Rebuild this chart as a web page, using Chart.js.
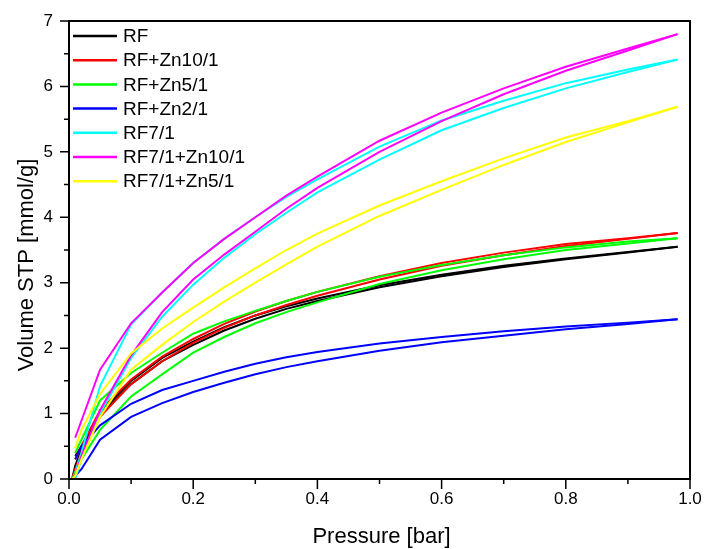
<!DOCTYPE html>
<html>
<head>
<meta charset="utf-8">
<script src="https://cdn.jsdelivr.net/npm/chart.js@4/dist/chart.umd.min.js"></script>
<style>
  body { margin: 0; background: #fff; }
  #wrap { width: 705px; height: 549px; position: relative; }
</style>
</head>
<body>
<div id="wrap"><canvas id="myChart"></canvas></div>
<script>
// pressure points, adsorption branch (up) then desorption branch (down)
const pressureAds = [0.005, 0.01, 0.02, 0.05, 0.1, 0.15, 0.2, 0.25, 0.3, 0.35, 0.4, 0.5, 0.6, 0.7, 0.8, 0.9, 0.98];
const pressureDes = [0.98, 0.9, 0.8, 0.7, 0.6, 0.5, 0.4, 0.35, 0.3, 0.25, 0.2, 0.15, 0.1, 0.05, 0.02, 0.01];

const names = ['RF', 'RF+Zn10/1', 'RF+Zn5/1', 'RF+Zn2/1', 'RF7/1', 'RF7/1+Zn10/1', 'RF7/1+Zn5/1'];
const colors = ['#000000', '#ff0000', '#00ff00', '#0000ff', '#00ffff', '#ff00ff', '#ffff00'];

const rfAds = [0, 0.2, 0.45, 0.98, 1.45, 1.8, 2.05, 2.27, 2.45, 2.6, 2.72, 2.93, 3.1, 3.24, 3.36, 3.46, 3.55];
const rfDes = [3.55, 3.47, 3.37, 3.26, 3.12, 2.96, 2.76, 2.64, 2.5, 2.32, 2.1, 1.85, 1.5, 1.02, 0.5, 0.35];

const zn10Ads = [0, 0.15, 0.4, 0.95, 1.45, 1.8, 2.08, 2.31, 2.5, 2.66, 2.8, 3.05, 3.26, 3.42, 3.56, 3.67, 3.76];
const zn10Des = [3.76, 3.68, 3.59, 3.46, 3.3, 3.1, 2.86, 2.72, 2.56, 2.37, 2.14, 1.87, 1.52, 1.05, 0.5, 0.3];

const zn5Ads = [0, 0.1, 0.3, 0.75, 1.26, 1.6, 1.93, 2.17, 2.38, 2.55, 2.7, 2.98, 3.19, 3.36, 3.5, 3.6, 3.68];
const zn5Des = [3.68, 3.63, 3.54, 3.42, 3.27, 3.09, 2.86, 2.72, 2.57, 2.41, 2.22, 1.93, 1.62, 1.2, 0.6, 0.4];

const zn2Ads = [0, 0.05, 0.15, 0.6, 0.95, 1.16, 1.33, 1.47, 1.6, 1.71, 1.8, 1.96, 2.09, 2.19, 2.29, 2.37, 2.44];
const zn2Des = [2.44, 2.39, 2.33, 2.26, 2.17, 2.07, 1.94, 1.86, 1.76, 1.64, 1.5, 1.36, 1.15, 0.82, 0.5, 0.3];

const rf7Ads = [0, 0, 0.3, 1.0, 1.85, 2.48, 2.97, 3.38, 3.74, 4.07, 4.38, 4.88, 5.33, 5.67, 5.97, 6.22, 6.41];
const rf7Des = [6.41, 6.26, 6.05, 5.78, 5.48, 5.08, 4.58, 4.31, 4.0, 3.67, 3.3, 2.85, 2.36, 1.42, 0.4, 0.1];

const rf7zn10Ads = [0, 0.05, 0.35, 1.05, 1.89, 2.55, 3.05, 3.43, 3.78, 4.13, 4.45, 5.0, 5.47, 5.88, 6.24, 6.55, 6.8];
const rf7zn10Des = [6.8, 6.58, 6.3, 5.97, 5.6, 5.17, 4.62, 4.33, 4.0, 3.67, 3.3, 2.85, 2.38, 1.67, 0.89, 0.63];

const rf7zn5Ads = [0, 0.05, 0.3, 0.95, 1.67, 2.05, 2.4, 2.71, 3.0, 3.28, 3.55, 4.02, 4.42, 4.8, 5.15, 5.45, 5.69];
const rf7zn5Des = [5.69, 5.47, 5.22, 4.9, 4.55, 4.18, 3.75, 3.5, 3.22, 2.93, 2.62, 2.3, 1.92, 1.3, 0.75, 0.47];

const adsList = [rfAds, zn10Ads, zn5Ads, zn2Ads, rf7Ads, rf7zn10Ads, rf7zn5Ads];
const desList = [rfDes, zn10Des, zn5Des, zn2Des, rf7Des, rf7zn10Des, rf7zn5Des];

const yTicks = [0, 1, 2, 3, 4, 5, 6, 7];
const xTicks = [0, 0.2, 0.4, 0.6, 0.8, 1.0];

const FONT = 'Arial, "Liberation Sans", sans-serif';

function branch(ps, vs) {
  return ps.map((p, i) => ({ x: p, y: vs[i] }));
}

// one dataset per branch; later series on top (Chart.js draws low "order" last)
const datasets = [];
names.forEach((n, i) => {
  [branch(pressureAds, adsList[i]), branch(pressureDes, desList[i])].forEach(d => {
    datasets.push({
      label: n,
      data: d,
      borderColor: colors[i],
      backgroundColor: colors[i],
      borderWidth: 2,
      showLine: true,
      pointRadius: 0,
      tension: 0,
      order: names.length - i
    });
  });
});

// outward major/minor ticks, top/right frame, axis titles, legend
const decor = {
  id: 'decor',
  afterDraw(chart) {
    const ctx = chart.ctx;
    const a = chart.chartArea;
    const xs = chart.scales.x, ys = chart.scales.y;
    ctx.save();
    ctx.strokeStyle = '#000';
    ctx.lineWidth = 2;
    ctx.strokeRect(a.left, a.top, a.right - a.left, a.bottom - a.top);
    ctx.lineWidth = 1.5;
    ctx.beginPath();
    for (let i = 0; i <= 10; i++) {
      const px = xs.getPixelForValue(i / 10);
      const len = i % 2 === 0 ? 10 : 5;
      ctx.moveTo(px, a.bottom);
      ctx.lineTo(px, a.bottom + len);
    }
    for (let i = 0; i <= 14; i++) {
      const py = ys.getPixelForValue(i / 2);
      const len = i % 2 === 0 ? 9 : 5;
      ctx.moveTo(a.left, py);
      ctx.lineTo(a.left - len, py);
    }
    ctx.stroke();

    // legend
    ctx.font = '19px ' + FONT;
    ctx.textAlign = 'left';
    ctx.textBaseline = 'middle';
    ctx.lineWidth = 2.5;
    names.forEach((n, i) => {
      const y = a.top + 15 + i * 24.2;
      ctx.strokeStyle = colors[i];
      ctx.beginPath();
      ctx.moveTo(a.left + 4, y);
      ctx.lineTo(a.left + 48, y);
      ctx.stroke();
      ctx.fillStyle = '#000';
      ctx.fillText(n, a.left + 54, y + 1);
    });

    ctx.fillStyle = '#000';
    ctx.font = '22px ' + FONT;
    ctx.textAlign = 'center';
    ctx.textBaseline = 'alphabetic';
    ctx.fillText('Pressure [bar]', (a.left + a.right) / 2 + 2, 543);
    ctx.translate(33, 265);
    ctx.rotate(-Math.PI / 2);
    ctx.fillText('Volume STP [mmol/g]', 0, 0);
    ctx.restore();
  }
};

const ctx = document.getElementById('myChart').getContext('2d');

const myChart = new Chart(ctx, {
  type: 'scatter',
  data: { datasets: datasets },
  plugins: [decor],
  options: {
    responsive: true,
    maintainAspectRatio: false,
    animation: false,
    layout: { padding: { top: 21, right: 15, left: 0, bottom: 0 } },
    plugins: {
      tooltip: { enabled: false },
      legend: { display: false }
    },
    scales: {
      x: {
        type: 'linear',
        min: 0,
        max: 1,
        afterFit: s => {
          s.height = 70;
          s.paddingLeft = 0; s.paddingRight = 0;
        },
        afterBuildTicks: s => { s.ticks = xTicks.map(v => ({ value: v })); },
        grid: { display: false, drawTicks: false },
        border: { display: true, color: '#000', width: 2 },
        ticks: {
          color: '#000',
          padding: 10,
          font: { family: FONT, size: 17 },
          callback: v => Number(v).toFixed(1)
        }
      },
      y: {
        type: 'linear',
        min: 0,
        max: 7,
        afterFit: s => {
          s.width = 69;
          s.paddingTop = 0; s.paddingBottom = 0;
        },
        afterBuildTicks: s => { s.ticks = yTicks.map(v => ({ value: v })); },
        grid: { display: false, drawTicks: false },
        border: { display: true, color: '#000', width: 2 },
        ticks: {
          color: '#000',
          padding: 16,
          font: { family: FONT, size: 17 },
          callback: v => String(v)
        }
      }
    }
  }
});
</script>
</body>
</html>
